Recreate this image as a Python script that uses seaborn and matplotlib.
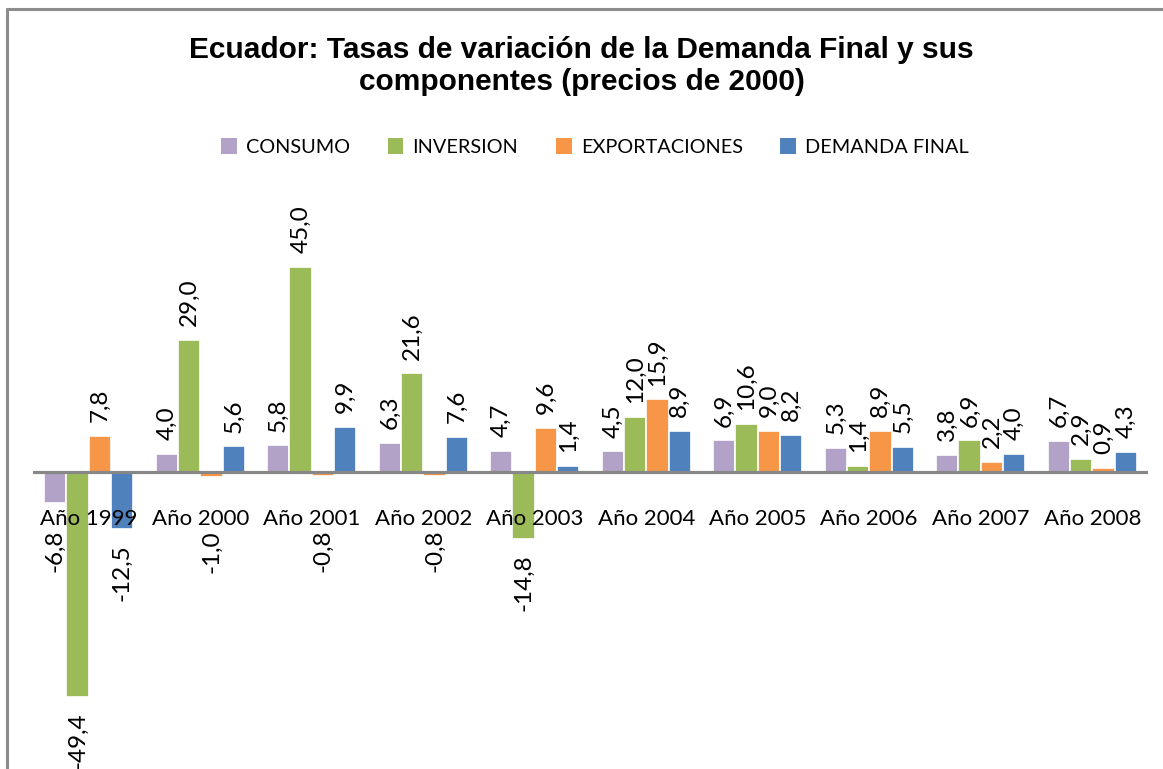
import numpy as np
import pandas as pd
import matplotlib
matplotlib.use("Agg")
import matplotlib.pyplot as plt
from matplotlib.lines import Line2D
from matplotlib.patches import Patch
import seaborn as sns

years = ["Año 1999", "Año 2000", "Año 2001", "Año 2002", "Año 2003",
         "Año 2004", "Año 2005", "Año 2006", "Año 2007", "Año 2008"]
series = ["CONSUMO", "INVERSION", "EXPORTACIONES", "DEMANDA FINAL"]
consumo = [-6.8, 4.0, 5.8, 6.3, 4.7, 4.5, 6.9, 5.3, 3.8, 6.7]
inversion = [-49.4, 29.0, 45.0, 21.6, -14.8, 12.0, 10.6, 1.4, 6.9, 2.9]
exportaciones = [7.8, -1.0, -0.8, -0.8, 9.6, 15.9, 9.0, 8.9, 2.2, 0.9]
demanda_final = [-12.5, 5.6, 9.9, 7.6, 1.4, 8.9, 8.2, 5.5, 4.0, 4.3]
colors = ["#B3A2C7", "#9BBB59", "#F79646", "#4F81BD"]

values = [consumo, inversion, exportaciones, demanda_final]
df = pd.DataFrame({
    "Año": years * len(series),
    "Serie": np.repeat(series, len(years)),
    "Valor": np.concatenate(values),
})

sns.set_theme(style="white")
plt.rcParams["font.family"] = ["Lato", "DejaVu Sans"]
plt.rcParams["text.color"] = "black"

W, H = 1163, 769
fig = plt.figure(figsize=(W / 100, H / 100), dpi=100)
fig.patch.set_facecolor("white")
ax = fig.add_axes([33 / W, 0, 1115 / W, 569 / H])
ax.set_facecolor("white")

sns.barplot(data=df, x="Año", y="Valor", hue="Serie", hue_order=series,
            order=years, palette=colors, saturation=1, width=0.8,
            errorbar=None, edgecolor="white", linewidth=1.2,
            legend=False, ax=ax)

YMIN, YMAX = -65.1, 59.6
ax.set_xlim(-0.5, 9.5)
ax.set_ylim(YMIN, YMAX)
px_per_unit = 569 / (YMAX - YMIN)

for cont, vals in zip(ax.containers, values):
    for bar, v in zip(cont.patches, vals):
        xc = bar.get_x() + bar.get_width() / 2
        lab = f"{v:.1f}".replace(".", ",")
        if v >= 0:
            ax.annotate(lab, (xc, v), xytext=(0, 10), textcoords="offset points",
                        rotation=90, ha="center", va="bottom", fontsize=17.5,
                        color="black", zorder=6)
        else:
            yl = min(v - 15 / px_per_unit, -58 / px_per_unit)
            ax.text(xc, yl, lab, rotation=90, ha="center", va="top",
                    fontsize=17.5, color="black", zorder=6)

for s in ["top", "left", "right"]:
    ax.spines[s].set_visible(False)
ax.spines["bottom"].set_position(("data", 0))
ax.spines["bottom"].set_visible(False)
ax.axhline(0, xmin=0, xmax=1, color="#878787", lw=2.3, zorder=4)
ax.set_yticks([])
ax.tick_params(axis="x", length=0, pad=27, labelsize=16, colors="black")
ax.xaxis.set_zorder(5)
ax.set_xlabel("")
ax.set_ylabel("")

fig.text(0.5, 1 - 66 / H,
         "Ecuador: Tasas de variación de la Demanda Final y sus\ncomponentes (precios de 2000)",
         ha="center", va="center", fontsize=21.5, fontweight="bold",
         family=["Liberation Sans", "DejaVu Sans"], linespacing=1.22,
         color="black")

handles = [Patch(facecolor=c, edgecolor="none") for c in colors]
fig.legend(handles, series, loc="center", bbox_to_anchor=(595 / W, 1 - 147 / H),
           ncol=4, frameon=False, fontsize=14.3, handlelength=0.8,
           handleheight=0.85, handletextpad=0.45, columnspacing=1.9)

# chart frame (top and left borders)
fig.add_artist(Line2D([7 / W, 1.0], [1 - 9 / H, 1 - 9 / H], color="#8c8c8c", lw=2.2))
fig.add_artist(Line2D([7 / W, 7 / W], [0, 1 - 9 / H], color="#8c8c8c", lw=2.2))

fig.savefig("out.png", dpi=100, facecolor="white")
